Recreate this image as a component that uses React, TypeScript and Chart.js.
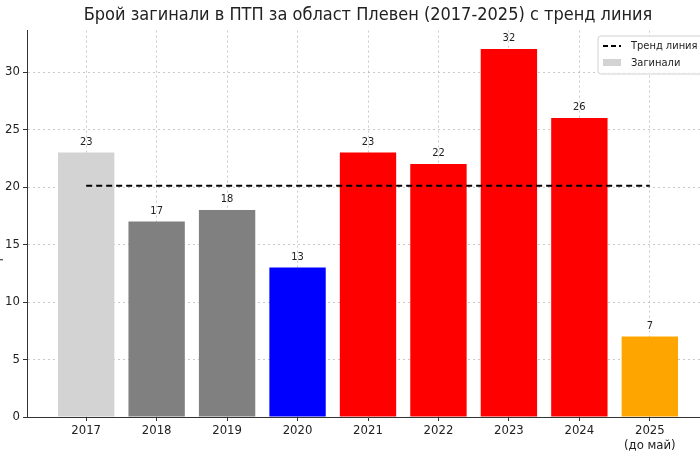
import React, { useEffect, useRef } from "react";
import { Chart, registerables } from "chart.js";

Chart.register(...registerables);

const categories: (string | string[])[] = ["2017", "2018", "2019", "2020", "2021", "2022", "2023", "2024", ["2025", "(до май)"]];
const deaths = [23, 17, 18, 13, 23, 22, 32, 26, 7];
const barColors = ["#d3d3d3", "#808080", "#808080", "#0000ff", "#ff0000", "#ff0000", "#ff0000", "#ff0000", "#ffa500"];
const trend = [20.11, 20.11, 20.11, 20.11, 20.11, 20.11, 20.11, 20.11, 20.11];
const yTicks = [0, 5, 10, 15, 20, 25, 30];

const TITLE = "Брой загинали в ПТП за област Плевен (2017-2025) с тренд линия";
const Y_TITLE = "Брой загинали";
const LEGEND_TREND = "Тренд линия";
const LEGEND_BARS = "Загинали";

const FONT = "'DejaVu Sans Condensed', 'DejaVu Sans', sans-serif";

export default function App() {
  const ref = useRef<HTMLCanvasElement | null>(null);

  useEffect(() => {
    if (!ref.current) return;

    const valueLabels = {
      id: "valueLabels",
      afterDraw(chart: any) {
        const ctx = chart.ctx;
        const meta = chart.getDatasetMeta(1);
        ctx.save();
        ctx.font = `11px ${FONT}`;
        ctx.fillStyle = "#222";
        ctx.textAlign = "center";
        ctx.textBaseline = "bottom";
        meta.data.forEach((el: any, i: number) => {
          ctx.fillText(String(deaths[i]), el.x, el.y - 5);
        });
        ctx.restore();
      },
    };

    const legendBox = {
      id: "legendBox",
      afterDraw(chart: any) {
        const ctx = chart.ctx;
        ctx.save();
        const x = 610, y = 36, w = 120, h = 38;
        ctx.beginPath();
        ctx.roundRect(x, y, w, h, 3);
        ctx.fillStyle = "rgba(255,255,255,0.85)";
        ctx.fill();
        ctx.strokeStyle = "#d0d0d0";
        ctx.lineWidth = 1;
        ctx.stroke();
        ctx.beginPath();
        ctx.setLineDash([5, 3]);
        ctx.strokeStyle = "#000";
        ctx.lineWidth = 2;
        ctx.moveTo(615, 46);
        ctx.lineTo(633, 46);
        ctx.stroke();
        ctx.setLineDash([]);
        ctx.fillStyle = "#d3d3d3";
        ctx.fillRect(615, 59, 18, 7);
        ctx.fillStyle = "#222";
        ctx.font = `11px ${FONT}`;
        ctx.textAlign = "left";
        ctx.textBaseline = "middle";
        ctx.fillText(LEGEND_TREND, 643, 46);
        ctx.fillText(LEGEND_BARS, 643, 63);
        ctx.restore();
      },
    };

    const gridColor = "rgba(165,165,165,0.6)";

    const chart = new Chart(ref.current, {
      type: "bar",
      data: {
        datasets: [
          {
            type: "line",
            label: LEGEND_TREND,
            data: trend.map((v, i) => ({ x: i, y: v })),
            borderColor: "#000",
            borderWidth: 2,
            borderDash: [6, 4],
            pointRadius: 0,
            fill: false,
            order: 0,
          } as any,
          {
            type: "bar",
            label: LEGEND_BARS,
            data: deaths.map((v, i) => ({ x: i, y: v })),
            backgroundColor: barColors,
            borderWidth: 0,
            categoryPercentage: 1,
            barPercentage: 0.8,
            order: 1,
          } as any,
        ],
      },
      options: {
        animation: false,
        responsive: false,
        maintainAspectRatio: false,
        layout: { padding: { left: 0, right: 9, top: 0, bottom: 0 } },
        plugins: {
          legend: { display: false },
          tooltip: { enabled: false },
          title: {
            display: true,
            fullSize: false,
            text: TITLE,
            color: "#222",
            font: { family: FONT, size: 18, weight: "normal" },
            padding: { top: 5, bottom: 4 },
          },
        },
        scales: {
          x: {
            type: "linear",
            min: -0.84,
            max: 8.84,
            offset: false,
            z: 1,
            afterBuildTicks: (scale: any) => {
              scale.ticks = categories.map((_, i) => ({ value: i }));
            },
            afterFit: (scale: any) => {
              scale.height = 43;
            },
            ticks: {
              callback: (v: any) => categories[v as number],
              color: "#222",
              font: { family: FONT, size: 13, lineHeight: 1.15 },
              padding: 2,
              autoSkip: false,
              maxRotation: 0,
            },
            grid: {
              offset: false,
              color: gridColor,
              drawTicks: true,
              tickLength: 4,
              tickColor: "#333",
              tickBorderDash: [],
            } as any,
            border: { display: true, color: "#333", width: 1, dash: [2, 3] } as any,
          },
          y: {
            type: "linear",
            min: 0,
            max: 33.6,
            z: 1,
            afterBuildTicks: (scale: any) => {
              scale.ticks = yTicks.map((v) => ({ value: v }));
            },
            afterFit: (scale: any) => {
              scale.width = 39;
            },
            title: {
              display: true,
              text: Y_TITLE,
              color: "#222",
              font: { family: FONT, size: 13 },
              padding: { top: 1, bottom: 0 },
            },
            ticks: {
              color: "#222",
              font: { family: FONT, size: 13 },
              padding: 3,
            },
            grid: {
              color: gridColor,
              drawTicks: true,
              tickLength: 4,
              tickColor: "#333",
              tickBorderDash: [],
            } as any,
            border: { display: true, color: "#333", width: 1, dash: [2, 3] } as any,
          },
        },
      },
      plugins: [valueLabels, legendBox],
    });

    return () => chart.destroy();
  }, []);

  return (
    <div style={{ position: "fixed", left: 0, top: 0, width: 700, height: 460, overflow: "hidden", background: "#fff" }}>
      <canvas ref={ref} width={730} height={460} style={{ position: "absolute", left: -12, top: 0, width: 730, height: 460 }} />
    </div>
  );
}
